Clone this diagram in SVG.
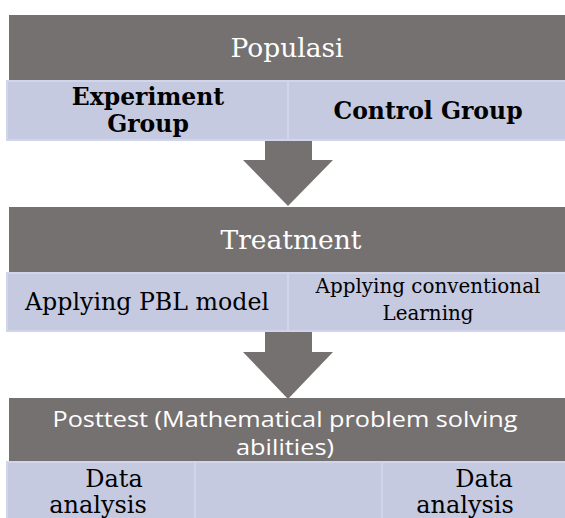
<svg xmlns="http://www.w3.org/2000/svg" width="565" height="518" viewBox="0 0 565 518">
<style>
.dark{fill:#767171}
.cell{fill:#C5CAE0;stroke:#D1D5EA;stroke-width:2}
.arrow{fill:#767171}
.hd{font-family:"DejaVu Serif","Liberation Serif",serif;fill:#FFFFFF;text-anchor:middle}
.bd{font-family:"DejaVu Serif","Liberation Serif",serif;font-weight:bold;fill:#000;text-anchor:middle}
.tx{font-family:"DejaVu Serif","Liberation Serif",serif;fill:#000;text-anchor:middle}
.sn{font-family:"Open Sans","Noto Sans",sans-serif;fill:#FFFFFF;text-anchor:middle}
</style>
<rect width="565" height="518" fill="#FFFFFF"/>
<g id="connectors">
<polygon class="arrow" points="265,141 312,141 312,160 333,160 288,206 243,160 265,160"/>
<polygon class="arrow" points="265,332 312,332 312,352 333,352 288,399 243,352 265,352"/>
</g>
<g id="populasi">
<rect class="dark" x="9" y="15" width="560" height="65"/>
<text class="hd" x="287" y="57" font-size="26.5">Populasi</text>
</g>
<g id="experiment-group">
<rect class="cell" x="7" y="81" width="281" height="59"/>
<text class="bd" x="148" y="105" font-size="23.5">Experiment</text>
<text class="bd" x="148" y="132" font-size="23.5">Group</text>
</g>
<g id="control-group">
<rect class="cell" x="288" y="81" width="280" height="59"/>
<text class="bd" x="428" y="119" font-size="23.5">Control Group</text>
</g>
<g id="treatment">
<rect class="dark" x="9" y="207" width="560" height="65"/>
<text class="hd" x="291" y="249" font-size="26.5">Treatment</text>
</g>
<g id="applying-pbl">
<rect class="cell" x="7" y="273" width="281" height="58"/>
<text class="tx" x="147" y="310" font-size="23.7">Applying PBL model</text>
</g>
<g id="applying-conventional">
<rect class="cell" x="288" y="273" width="280" height="58"/>
<text class="tx" x="428" y="293" font-size="19.9">Applying conventional</text>
<text class="tx" x="428" y="320" font-size="19.9">Learning</text>
</g>
<g id="posttest">
<rect class="dark" x="9" y="398" width="560" height="63"/>
<text class="sn" x="285" y="427" font-size="22" textLength="465" lengthAdjust="spacingAndGlyphs">Posttest (Mathematical problem solving</text>
<text class="sn" x="285" y="455" font-size="22" textLength="98" lengthAdjust="spacingAndGlyphs">abilities)</text>
</g>
<g id="data-analysis-1">
<rect class="cell" x="7" y="462" width="188" height="60"/>
<text class="tx" x="114" y="487" font-size="24">Data</text>
<text class="tx" x="98" y="513" font-size="24">analysis</text>
</g>
<g id="middle-cell">
<rect class="cell" x="195" y="462" width="187" height="60"/>
</g>
<g id="data-analysis-2">
<rect class="cell" x="382" y="462" width="186" height="60"/>
<text class="tx" x="484" y="487" font-size="24">Data</text>
<text class="tx" x="465" y="513" font-size="24">analysis</text>
</g>
</svg>
